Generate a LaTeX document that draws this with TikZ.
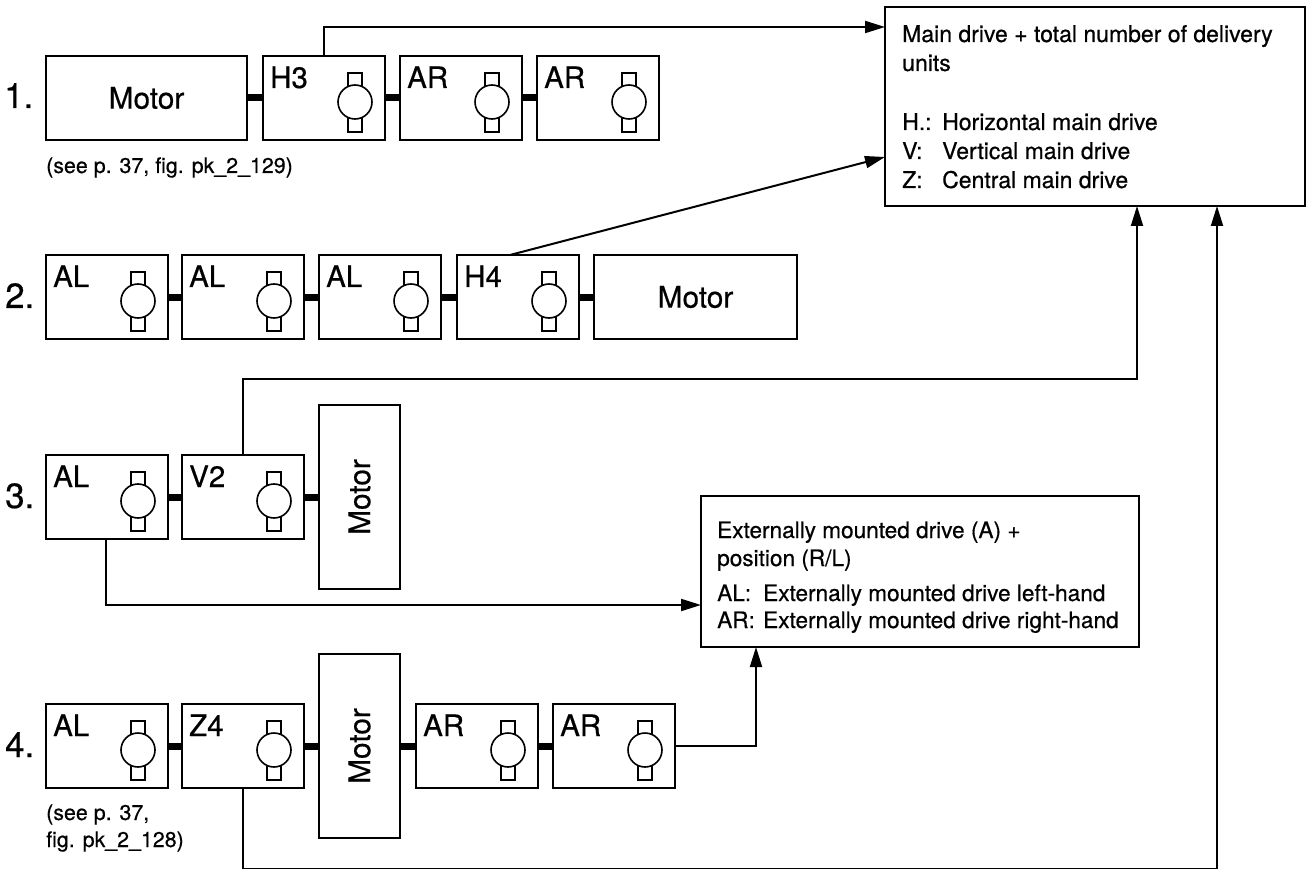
\documentclass[tikz,border=0pt]{standalone}
\usepackage{fontspec}
\setmainfont[RawFeature={embolden=0.5}]{TeX Gyre Heros}
\usetikzlibrary{arrows.meta,calc}
\newcommand{\fsz}[2]{\fontsize{#1}{#2}\selectfont}
\tikzset{
  boxn/.style={draw=black,line width=2pt,rectangle,outer sep=0pt,inner sep=0pt,anchor=north west,fill=white},
  unitbox/.style={boxn,minimum width=122pt,minimum height=84pt},
  hmotor/.style={boxn,minimum height=84pt,font=\fsz{29.8}{32}},
  vmotor/.style={boxn,minimum width=81pt,minimum height=184pt,font=\fsz{29.8}{32}},
  unitlabel/.style={anchor=base west,inner sep=0pt,font=\fsz{29.5}{32}},
  rownum/.style={anchor=base west,inner sep=0pt,font=\fsz{35}{38}},
  note/.style={anchor=base west,inner sep=0pt,font=\fsz{21.4}{27}},
  infotext/.style={anchor=base west,inner sep=0pt,font=\fsz{23}{29}},
  exttext/.style={anchor=base west,inner sep=0pt,font=\fsz{22.6}{29}},
  shaft/.style={line width=7pt},
  arrowwire/.style={line width=2pt,-{Triangle[length=20pt,width=12pt]}},
  motorsym/.style={draw=black,line width=1.6pt,fill=white}
}
% name, left x, top y, label
\newcommand{\driveunit}[4]{%
  \node[unitbox] (#1) at (#2,#3) {};
  \node[unitlabel] (#1-label) at ($(#1.north west)+(7,32)$) {#4};
  \draw[motorsym] ($(#1.north west)+(85,17)$) rectangle ($(#1.north west)+(99,76)$);
  \draw[motorsym] ($(#1.north west)+(92,46)$) circle (17pt);
}
\begin{document}
\begin{tikzpicture}[x=1pt,y=-1pt]
\useasboundingbox (0,0) rectangle (1307,869);
% row numbers
\node[rownum] (n1) at (4,108) {1.};
\node[rownum] (n2) at (5,308) {2.};
\node[rownum] (n3) at (5,508) {3.};
\node[rownum] (n4) at (5,757) {4.};
% row 1
\node[hmotor,minimum width=201pt] (m1) at (46,56) {Motor};
\driveunit{h3}{263}{56}{H3}
\driveunit{ar1}{400}{56}{AR}
\driveunit{ar2}{537}{56}{AR}
\draw[shaft] (m1.east) -- (h3.west);
\draw[shaft] (h3.east) -- (ar1.west);
\draw[shaft] (ar1.east) -- (ar2.west);
\node[note] (note1) at (46,173) {(see p. 37, fig. pk\_2\_129)};
% row 2
\driveunit{al1}{46}{255}{AL}
\driveunit{al2}{182}{255}{AL}
\driveunit{al3}{319}{255}{AL}
\driveunit{h4}{457}{255}{H4}
\node[hmotor,minimum width=203pt] (m2) at (594,255) {Motor};
\draw[shaft] (al1.east) -- (al2.west);
\draw[shaft] (al2.east) -- (al3.west);
\draw[shaft] (al3.east) -- (h4.west);
\draw[shaft] (h4.east) -- (m2.west);
% row 3
\driveunit{al4}{46}{455}{AL}
\driveunit{v2}{182}{455}{V2}
\node[vmotor] (m3) at (319,405) {\rotatebox{90}{Motor}};
\draw[shaft] (al4.east) -- (al4.east -| v2.west);
\draw[shaft] (v2.east) -- (v2.east -| m3.west);
% row 4
\driveunit{al5}{46}{704}{AL}
\driveunit{z4}{182}{704}{Z4}
\node[vmotor] (m4) at (319,654) {\rotatebox{90}{Motor}};
\driveunit{ar3}{416}{704}{AR}
\driveunit{ar4}{553}{704}{AR}
\draw[shaft] (al5.east) -- (z4.west);
\draw[shaft] (z4.east) -- (z4.east -| m4.west);
\draw[shaft] (ar3.west -| m4.east) -- (ar3.west);
\draw[shaft] (ar3.east) -- (ar4.west);
\node[note] (note4a) at (46,820) {(see p. 37,};
\node[note] (note4b) at (46,847) {fig. pk\_2\_128)};
% info boxes
\node[boxn,minimum width=420pt,minimum height=199pt] (main) at (885,7) {};
\node[infotext] (t1) at (902,42) {Main drive + total number of delivery};
\node[infotext] (t2) at (902,71) {units};
\node[infotext] (t3) at (902,130) {\makebox[40pt][l]{H.:}Horizontal main drive};
\node[infotext] (t4) at (902,159) {\makebox[40pt][l]{V:}Vertical main drive};
\node[infotext] (t5) at (902,188) {\makebox[40pt][l]{Z:}Central main drive};
\node[boxn,minimum width=438pt,minimum height=151pt] (ext) at (701,496) {};
\node[exttext] (e1) at (717,538) {Externally mounted drive (A) +};
\node[exttext] (e2) at (717,566) {position (R/L)};
\node[exttext] (e3) at (717,601) {\makebox[46pt][l]{AL:}Externally mounted drive left-hand};
\node[exttext] (e4) at (717,628) {\makebox[46pt][l]{AR:}Externally mounted drive right-hand};
% connectors
\coordinate (c1) at (885,27);
\coordinate (c2) at (885,157);
\coordinate (c3) at (1137,206);
\coordinate (c4) at (1217,206);
\coordinate (h4out) at (510,255);
\coordinate (v2out) at (243,455);
\coordinate (al4out) at (106,539);
\coordinate (extin) at (701,605);
\coordinate (ar4in) at (756,647);
\draw[arrowwire] (h3.north) |- (c1);
\draw[arrowwire] (h4out) -- (c2);
\draw[arrowwire] (v2out) |- (c3 |- 0,379) -- (c3);
\draw[arrowwire] (al4out) |- (extin);
\draw[arrowwire] (ar4.east) -| (ar4in);
\draw[arrowwire] (z4.south) |- (c4 |- 0,868.5) -- (c4);
\end{tikzpicture}
\end{document}
